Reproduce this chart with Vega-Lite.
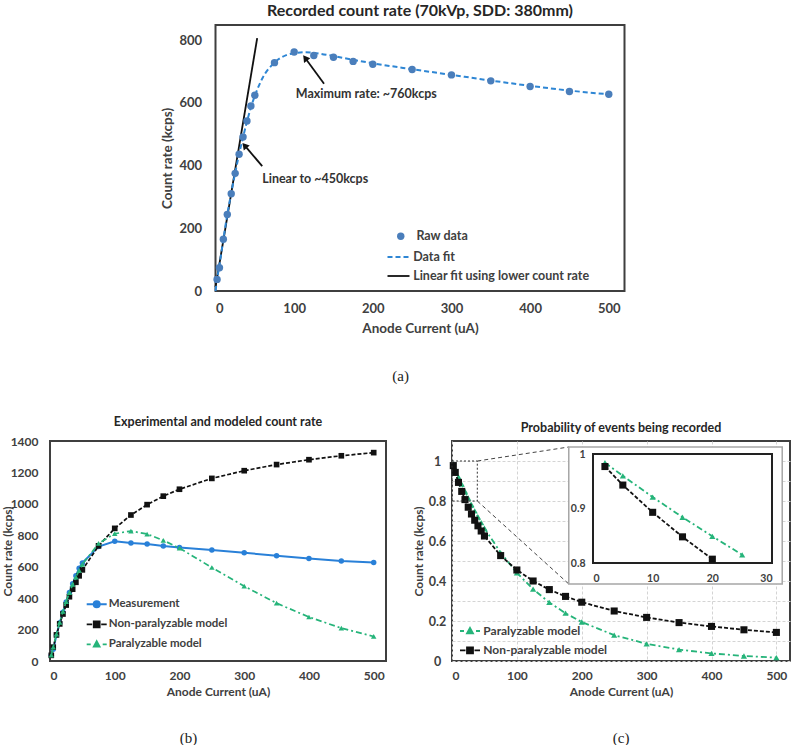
{
"$schema": "https://vega.github.io/schema/vega-lite/v6.json",
"background": "white",
"padding": {"left": 0, "top": 2, "right": 4, "bottom": 0},
"config": {
 "font": "Lato",
 "view": {"stroke": "#3f3f3f", "strokeWidth": 2},
 "axis": {"grid": false, "domain": false, "ticks": false, "tickSize": 0, "labelFont": "Lato", "titleFont": "Lato", "labelFontWeight": "bold", "titleFontWeight": "bold", "labelColor": "#404040", "titleColor": "#404040"},
 "legend": {"padding": 0, "labelFont": "Lato", "labelFontWeight": "bold", "labelColor": "#404040", "labelLimit": 400},
 "title": {"font": "Lato", "fontWeight": "bold", "color": "#262626"}
},
"datasets": {
 "a_raw": [{"x":2,"y":37},{"x":5,"y":74},{"x":10,"y":165},{"x":15,"y":244},{"x":20,"y":310},{"x":25,"y":375},{"x":30,"y":436},{"x":35,"y":491},{"x":40,"y":542},{"x":45,"y":590},{"x":50,"y":624},{"x":75,"y":728},{"x":100,"y":762},{"x":125,"y":751},{"x":150,"y":745},{"x":175,"y":732},{"x":200,"y":723},{"x":250,"y":706},{"x":300,"y":689},{"x":350,"y":670},{"x":400,"y":652},{"x":450,"y":636},{"x":500,"y":627}],
 "a_fit": [{"x":0,"y":0},{"x":2,"y":38},{"x":5,"y":82},{"x":10,"y":165},{"x":15,"y":244},{"x":20,"y":312},{"x":25,"y":376},{"x":30,"y":436},{"x":35,"y":490},{"x":40,"y":540},{"x":45,"y":585},{"x":50,"y":622},{"x":60,"y":680},{"x":75,"y":728},{"x":90,"y":752},{"x":100,"y":758},{"x":115,"y":761},{"x":125,"y":759},{"x":150,"y":749},{"x":175,"y":737},{"x":200,"y":726},{"x":250,"y":707},{"x":300,"y":689},{"x":350,"y":671},{"x":400,"y":654},{"x":450,"y":639},{"x":500,"y":627}],
 "a_lin": [{"x":0,"y":12},{"x":53,"y":806}],
 "a_notes": [{"label":"Maximum rate: ~760kcps","tx":102,"ty":629,"x":138,"y":661,"hx":114,"hy":743},{"label":"Linear to ~450kcps","tx":59.4,"ty":358,"x":59.4,"y":398,"hx":37,"hy":464}],
 "b": [
  {"s":"Measurement","x":2,"y":37},{"s":"Measurement","x":5,"y":74},{"s":"Measurement","x":10,"y":165},{"s":"Measurement","x":15,"y":244},{"s":"Measurement","x":20,"y":310},{"s":"Measurement","x":25,"y":375},{"s":"Measurement","x":30,"y":436},{"s":"Measurement","x":35,"y":491},{"s":"Measurement","x":40,"y":542},{"s":"Measurement","x":45,"y":590},{"s":"Measurement","x":50,"y":624},{"s":"Measurement","x":75,"y":728},{"s":"Measurement","x":100,"y":762},{"s":"Measurement","x":125,"y":751},{"s":"Measurement","x":150,"y":745},{"s":"Measurement","x":175,"y":732},{"s":"Measurement","x":200,"y":723},{"s":"Measurement","x":250,"y":706},{"s":"Measurement","x":300,"y":689},{"s":"Measurement","x":350,"y":670},{"s":"Measurement","x":400,"y":652},{"s":"Measurement","x":450,"y":636},{"s":"Measurement","x":500,"y":627},
  {"s":"Non-paralyzable model","x":2,"y":36},{"s":"Non-paralyzable model","x":5,"y":88},{"s":"Non-paralyzable model","x":10,"y":166},{"s":"Non-paralyzable model","x":15,"y":236},{"s":"Non-paralyzable model","x":20,"y":299},{"s":"Non-paralyzable model","x":25,"y":356},{"s":"Non-paralyzable model","x":30,"y":409},{"s":"Non-paralyzable model","x":35,"y":457},{"s":"Non-paralyzable model","x":40,"y":501},{"s":"Non-paralyzable model","x":45,"y":542},{"s":"Non-paralyzable model","x":50,"y":580},{"s":"Non-paralyzable model","x":75,"y":733},{"s":"Non-paralyzable model","x":100,"y":844},{"s":"Non-paralyzable model","x":125,"y":929},{"s":"Non-paralyzable model","x":150,"y":995},{"s":"Non-paralyzable model","x":175,"y":1049},{"s":"Non-paralyzable model","x":200,"y":1093},{"s":"Non-paralyzable model","x":250,"y":1162},{"s":"Non-paralyzable model","x":300,"y":1211},{"s":"Non-paralyzable model","x":350,"y":1250},{"s":"Non-paralyzable model","x":400,"y":1281},{"s":"Non-paralyzable model","x":450,"y":1306},{"s":"Non-paralyzable model","x":500,"y":1326},
  {"s":"Paralyzable model","x":2,"y":37},{"s":"Paralyzable model","x":5,"y":89},{"s":"Paralyzable model","x":10,"y":171},{"s":"Paralyzable model","x":15,"y":246},{"s":"Paralyzable model","x":20,"y":315},{"s":"Paralyzable model","x":25,"y":378},{"s":"Paralyzable model","x":30,"y":435},{"s":"Paralyzable model","x":35,"y":487},{"s":"Paralyzable model","x":40,"y":534},{"s":"Paralyzable model","x":45,"y":577},{"s":"Paralyzable model","x":50,"y":615},{"s":"Paralyzable model","x":75,"y":748},{"s":"Paralyzable model","x":100,"y":810},{"s":"Paralyzable model","x":125,"y":827},{"s":"Paralyzable model","x":150,"y":808},{"s":"Paralyzable model","x":175,"y":768},{"s":"Paralyzable model","x":200,"y":718},{"s":"Paralyzable model","x":250,"y":595},{"s":"Paralyzable model","x":300,"y":476},{"s":"Paralyzable model","x":350,"y":368},{"s":"Paralyzable model","x":400,"y":280},{"s":"Paralyzable model","x":450,"y":209},{"s":"Paralyzable model","x":500,"y":156}
 ],
 "c": [
  {"s":"Non-paralyzable model","x":2,"p":0.977},{"s":"Non-paralyzable model","x":5,"p":0.943},{"s":"Non-paralyzable model","x":10,"p":0.893},{"s":"Non-paralyzable model","x":15,"p":0.848},{"s":"Non-paralyzable model","x":20,"p":0.807},{"s":"Non-paralyzable model","x":25,"p":0.769},{"s":"Non-paralyzable model","x":30,"p":0.735},{"s":"Non-paralyzable model","x":35,"p":0.704},{"s":"Non-paralyzable model","x":40,"p":0.676},{"s":"Non-paralyzable model","x":45,"p":0.65},{"s":"Non-paralyzable model","x":50,"p":0.625},{"s":"Non-paralyzable model","x":75,"p":0.527},{"s":"Non-paralyzable model","x":100,"p":0.455},{"s":"Non-paralyzable model","x":125,"p":0.4},{"s":"Non-paralyzable model","x":150,"p":0.357},{"s":"Non-paralyzable model","x":175,"p":0.323},{"s":"Non-paralyzable model","x":200,"p":0.294},{"s":"Non-paralyzable model","x":250,"p":0.25},{"s":"Non-paralyzable model","x":300,"p":0.218},{"s":"Non-paralyzable model","x":350,"p":0.192},{"s":"Non-paralyzable model","x":400,"p":0.173},{"s":"Non-paralyzable model","x":450,"p":0.156},{"s":"Non-paralyzable model","x":500,"p":0.143},
  {"s":"Paralyzable model","x":2,"p":0.984},{"s":"Paralyzable model","x":5,"p":0.96},{"s":"Paralyzable model","x":10,"p":0.921},{"s":"Paralyzable model","x":15,"p":0.884},{"s":"Paralyzable model","x":20,"p":0.849},{"s":"Paralyzable model","x":25,"p":0.815},{"s":"Paralyzable model","x":30,"p":0.782},{"s":"Paralyzable model","x":35,"p":0.751},{"s":"Paralyzable model","x":40,"p":0.721},{"s":"Paralyzable model","x":45,"p":0.692},{"s":"Paralyzable model","x":50,"p":0.664},{"s":"Paralyzable model","x":75,"p":0.541},{"s":"Paralyzable model","x":100,"p":0.441},{"s":"Paralyzable model","x":125,"p":0.359},{"s":"Paralyzable model","x":150,"p":0.293},{"s":"Paralyzable model","x":175,"p":0.239},{"s":"Paralyzable model","x":200,"p":0.195},{"s":"Paralyzable model","x":250,"p":0.129},{"s":"Paralyzable model","x":300,"p":0.086},{"s":"Paralyzable model","x":350,"p":0.057},{"s":"Paralyzable model","x":400,"p":0.038},{"s":"Paralyzable model","x":450,"p":0.025},{"s":"Paralyzable model","x":500,"p":0.017}
 ],
 "c_zoom": [{"x":0,"x2":39,"p":0.8,"p2":1.0}],
 "c_links": [{"x":39,"p":1.0,"x2":180,"p2":1.07},{"x":39,"p":0.8,"x2":180,"p2":0.385}],
 "c_box": [{"x":180,"x2":509,"p":0.385,"p2":1.07}],
 "c_iframe": [{"x":0,"x2":30,"p":0.8,"p2":1.0}]
},
"vconcat": [
 {
  "title": {"text": "(a)", "orient": "bottom", "anchor": "middle", "font": "Liberation Serif", "fontWeight": "normal", "fontSize": 15, "color": "#222222", "offset": 33, "dx": 8},
  "vconcat": [
   {
    "width": 409, "height": 266,
    "title": {"text": "Recorded count rate (70kVp, SDD: 380mm)", "fontSize": 16, "frame": "group", "offset": 6},
    "resolve": {"scale": {"color": "independent"}},
    "encoding": {
     "x": {"field": "x", "type": "quantitative", "title": "Anode Current (uA)", "scale": {"domain": [0, 520], "nice": false}, "axis": {"values": [0,100,200,300,400,500], "labelFontSize": 13, "labelPadding": 11, "titleFontSize": 13.5, "titlePadding": 6}},
     "y": {"field": "y", "type": "quantitative", "title": "Count rate (kcps)", "scale": {"domain": [0, 848], "nice": false}, "axis": {"values": [0,200,400,600,800], "labelFontSize": 13, "labelPadding": 14, "titleFontSize": 13.5, "titlePadding": 4}}
    },
    "layer": [
     {"data": {"name": "a_lin"}, "mark": {"type": "line", "strokeWidth": 1.8},
      "encoding": {"color": {"datum": "Linear fit using lower count rate", "scale": {"range": ["#111111"]}, "legend": {"orient": "none", "legendX": 171, "legendY": 239, "title": null, "symbolType": "stroke", "symbolSize": 484, "symbolStrokeWidth": 1.8, "labelFontSize": 12.5, "labelOffset": 2.7}}}},
     {"data": {"name": "a_fit"}, "mark": {"type": "line", "strokeWidth": 2, "strokeDash": [5, 3], "interpolate": "monotone"},
      "encoding": {"color": {"datum": "Data fit", "scale": {"range": ["#2e86d4"]}, "legend": {"orient": "none", "legendX": 171, "legendY": 220, "title": null, "symbolType": "stroke", "symbolSize": 484, "symbolStrokeWidth": 2, "symbolDash": [5, 3], "labelFontSize": 12.5, "labelOffset": 2.7}}}},
     {"data": {"name": "a_raw"}, "mark": {"type": "point", "filled": true, "size": 55, "opacity": 1},
      "encoding": {"color": {"datum": "Raw data", "scale": {"range": ["#4a7ebb"]}, "legend": {"orient": "none", "legendX": 179, "legendY": 205, "title": null, "symbolType": "circle", "symbolSize": 55, "labelFontSize": 12.5, "labelOffset": 9.4}}}},
     {"data": {"name": "a_notes"}, "mark": {"type": "rule", "color": "#111111", "strokeWidth": 1.8},
      "encoding": {"x2": {"field": "hx"}, "y2": {"field": "hy"}}},
     {"data": {"name": "a_notes"}, "transform": [{"filter": "datum.label === 'Maximum rate: ~760kcps'"}], "mark": {"type": "point", "shape": "triangle-up", "filled": true, "size": 60, "opacity": 1, "color": "#111111", "angle": 323},
      "encoding": {"x": {"field": "hx", "type": "quantitative", "title": "Anode Current (uA)"}, "y": {"field": "hy", "type": "quantitative", "title": "Count rate (kcps)"}}},
     {"data": {"name": "a_notes"}, "transform": [{"filter": "datum.label === 'Linear to ~450kcps'"}], "mark": {"type": "point", "shape": "triangle-up", "filled": true, "size": 60, "opacity": 1, "color": "#111111", "angle": 320},
      "encoding": {"x": {"field": "hx", "type": "quantitative", "title": "Anode Current (uA)"}, "y": {"field": "hy", "type": "quantitative", "title": "Count rate (kcps)"}}},
     {"data": {"name": "a_notes"}, "mark": {"type": "text", "align": "left", "baseline": "middle", "fontWeight": "bold", "fontSize": 12.5, "color": "#333333"},
      "encoding": {"x": {"field": "tx", "type": "quantitative", "title": "Anode Current (uA)"}, "y": {"field": "ty", "type": "quantitative", "title": "Count rate (kcps)"}, "text": {"field": "label"}}}
    ]
   }
  ]
 },
 {
  "hconcat": [
   {
    "title": {"text": "(b)", "orient": "bottom", "anchor": "middle", "font": "Liberation Serif", "fontWeight": "normal", "fontSize": 15, "color": "#222222", "offset": 33, "dx": -5},
    "vconcat": [
     {
      "width": 336, "height": 220,
      "title": {"text": "Experimental and modeled count rate", "fontSize": 12.5, "frame": "group", "offset": 7},
      "data": {"name": "b"},
      "resolve": {"scale": {"color": "independent"}},
      "encoding": {
       "x": {"field": "x", "type": "quantitative", "title": "Anode Current (uA)", "scale": {"domain": [0, 519], "nice": false}, "axis": {"values": [0,100,200,300,400,500], "labelFontSize": 12, "labelPadding": 9, "titleFontSize": 12, "titlePadding": 5}},
       "y": {"field": "y", "type": "quantitative", "title": "Count rate (kcps)", "scale": {"domain": [0, 1400], "nice": false}, "axis": {"values": [0,200,400,600,800,1000,1200,1400], "format": "d", "labelFontSize": 12, "labelPadding": 12, "titleFontSize": 12, "titlePadding": -4}}
      },
      "layer": [
       {"transform": [{"filter": "datum.s === 'Measurement'"}], "mark": {"type": "line", "color": "#2980d8", "strokeWidth": 2}},
       {"transform": [{"filter": "datum.s === 'Measurement'"}], "mark": {"type": "point", "shape": "circle", "filled": true, "size": 30, "opacity": 1},
        "encoding": {"color": {"datum": "Measurement", "scale": {"range": ["#2980d8"]}, "legend": {"orient": "none", "legendX": 35.7, "legendY": 152.3, "title": null, "symbolType": "M-1,0H1M0.3,0A0.3,0.3,0,1,1,-0.3,0A0.3,0.3,0,1,1,0.3,0Z", "symbolSize": 400, "symbolStrokeColor": "#2980d8", "symbolStrokeWidth": 2, "labelFontSize": 11.5, "labelOffset": 1}}}},
       {"transform": [{"filter": "datum.s === 'Non-paralyzable model'"}], "mark": {"type": "line", "color": "#111111", "strokeWidth": 1.7, "strokeDash": [4, 2]}},
       {"transform": [{"filter": "datum.s === 'Non-paralyzable model'"}], "mark": {"type": "point", "shape": "square", "filled": true, "size": 32, "opacity": 1},
        "encoding": {"color": {"datum": "Non-paralyzable model", "scale": {"range": ["#111111"]}, "legend": {"orient": "none", "legendX": 35.7, "legendY": 172.3, "title": null, "symbolType": "M-1,0H-0.45M0.45,0H1M-0.3,-0.3H0.3V0.3H-0.3Z", "symbolSize": 400, "symbolStrokeColor": "#111111", "symbolStrokeWidth": 1.7, "labelFontSize": 11.5, "labelOffset": 1}}}},
       {"transform": [{"filter": "datum.s === 'Paralyzable model'"}], "mark": {"type": "line", "color": "#26b47a", "strokeWidth": 1.7, "strokeDash": [6, 3, 2, 3]}},
       {"transform": [{"filter": "datum.s === 'Paralyzable model'"}], "mark": {"type": "point", "shape": "triangle-up", "filled": true, "size": 30, "opacity": 1},
        "encoding": {"color": {"datum": "Paralyzable model", "scale": {"range": ["#26b47a"]}, "legend": {"orient": "none", "legendX": 35.7, "legendY": 192.3, "title": null, "symbolType": "M-1,0H-0.6M0.6,0H1M0,-0.32L0.3,0.24L-0.3,0.24Z", "symbolSize": 400, "symbolStrokeColor": "#26b47a", "symbolStrokeWidth": 1.7, "labelFontSize": 11.5, "labelOffset": 1}}}}
      ]
     }
    ]
   },
   {
    "title": {"text": "(c)", "orient": "bottom", "anchor": "middle", "font": "Liberation Serif", "fontWeight": "normal", "fontSize": 15, "color": "#222222", "offset": 33, "dx": 20},
    "vconcat": [
     {
      "width": 338, "height": 220,
      "title": {"text": "Probability of events being recorded", "fontSize": 12.5, "frame": "group", "offset": 7},
      "resolve": {"scale": {"x": "independent", "y": "independent", "color": "independent"}, "axis": {"x": "independent", "y": "independent"}},
      "layer": [
       {
        "data": {"name": "c"},
        "resolve": {"scale": {"color": "independent"}},
        "encoding": {
         "x": {"field": "x", "type": "quantitative", "title": "Anode Current (uA)", "scale": {"domain": [0, 521], "nice": false}, "axis": {"values": [0,100,200,300,400,500], "grid": true, "gridColor": "#d4d4d4", "gridDash": [3, 2], "labelFontSize": 12, "labelPadding": 9, "titleFontSize": 12, "titlePadding": 5}},
         "y": {"field": "p", "type": "quantitative", "title": "Count rate (kcps)", "scale": {"domain": [0, 1.1], "nice": false}, "axis": {"values": [0,0.1,0.2,0.3,0.4,0.5,0.6,0.7,0.8,0.9,1], "format": "~g", "labelExpr": "indexof(['0','0.2','0.4','0.6','0.8','1'], datum.label) >= 0 ? datum.label : ''", "grid": true, "gridColor": "#d4d4d4", "gridDash": [3, 2], "labelAlign": "center", "labelFontSize": 12.5, "labelPadding": 15, "titleFontSize": 12, "titlePadding": 3}}
        },
        "layer": [
         {"transform": [{"filter": "datum.s === 'Paralyzable model'"}], "mark": {"type": "line", "color": "#26b47a", "strokeWidth": 1.8, "strokeDash": [6, 3, 2, 3]}},
         {"transform": [{"filter": "datum.s === 'Paralyzable model'"}], "mark": {"type": "point", "shape": "triangle-up", "filled": true, "size": 38, "opacity": 1},
          "encoding": {"color": {"datum": "Paralyzable model", "scale": {"range": ["#26b47a"]}, "legend": {"orient": "none", "legendX": 7, "legendY": 179, "title": null, "symbolType": "M-1,0H-0.6M0.6,0H1M0,-0.32L0.3,0.24L-0.3,0.24Z", "symbolSize": 400, "symbolStrokeColor": "#26b47a", "symbolStrokeWidth": 1.8, "labelFontSize": 12, "labelOffset": 2.3}}}},
         {"transform": [{"filter": "datum.s === 'Non-paralyzable model'"}], "mark": {"type": "line", "color": "#111111", "strokeWidth": 1.8, "strokeDash": [4, 2]}},
         {"transform": [{"filter": "datum.s === 'Non-paralyzable model'"}], "mark": {"type": "point", "shape": "square", "filled": true, "size": 50, "opacity": 1},
          "encoding": {"color": {"datum": "Non-paralyzable model", "scale": {"range": ["#111111"]}, "legend": {"orient": "none", "legendX": 7, "legendY": 198.3, "title": null, "symbolType": "M-1,0H-0.45M0.45,0H1M-0.3,-0.3H0.3V0.3H-0.3Z", "symbolSize": 400, "symbolStrokeColor": "#111111", "symbolStrokeWidth": 1.8, "labelFontSize": 12, "labelOffset": 2.3}}}},
         {"data": {"name": "c_zoom"}, "mark": {"type": "rect", "filled": false, "stroke": "#333333", "strokeWidth": 1, "strokeDash": [2, 2]},
          "encoding": {"x2": {"field": "x2"}, "y2": {"field": "p2"}}},
         {"data": {"name": "c_links"}, "mark": {"type": "rule", "color": "#444444", "strokeWidth": 1, "strokeDash": [4, 3]},
          "encoding": {"x2": {"field": "x2"}, "y2": {"field": "p2"}}},
         {"data": {"name": "c_box"}, "mark": {"type": "rect", "fill": "white", "stroke": "#a6a6a6", "strokeWidth": 1.5},
          "encoding": {"x2": {"field": "x2"}, "y2": {"field": "p2"}}}
        ]
       },
       {
        "data": {"name": "c"},
        "resolve": {"scale": {"color": "independent"}},
        "encoding": {
         "x": {"field": "x", "type": "quantitative", "title": null, "scale": {"domain": [0, 30], "range": [141, 320], "nice": false}, "axis": {"orient": "bottom", "offset": -98, "values": [0, 10, 20, 30], "grid": false, "labelFontSize": 10.5, "labelPadding": 10, "zindex": 1}},
         "y": {"field": "p", "type": "quantitative", "title": null, "scale": {"domain": [0.8, 1], "range": [122, 13], "nice": false, "zero": false}, "axis": {"orient": "left", "offset": -141, "values": [0.8, 0.9, 1], "format": "~g", "grid": false, "labelFontSize": 10.5, "labelPadding": 8, "zindex": 1}}
        },
        "layer": [
         {"data": {"name": "c_iframe"}, "mark": {"type": "rect", "filled": false, "stroke": "#222222", "strokeWidth": 2},
          "encoding": {"x2": {"field": "x2"}, "y2": {"field": "p2"}}},
         {"transform": [{"filter": "datum.s === 'Paralyzable model' && datum.x <= 25"}], "mark": {"type": "line", "color": "#26b47a", "strokeWidth": 1.8, "strokeDash": [6, 3, 2, 3]}},
         {"transform": [{"filter": "datum.s === 'Paralyzable model' && datum.x <= 25"}], "mark": {"type": "point", "shape": "triangle-up", "filled": true, "size": 38, "opacity": 1, "color": "#26b47a"}},
         {"transform": [{"filter": "datum.s === 'Non-paralyzable model' && datum.x <= 20"}], "mark": {"type": "line", "color": "#111111", "strokeWidth": 1.8, "strokeDash": [4, 2]}},
         {"transform": [{"filter": "datum.s === 'Non-paralyzable model' && datum.x <= 20"}], "mark": {"type": "point", "shape": "square", "filled": true, "size": 50, "opacity": 1, "color": "#111111"}}
        ]
       }
      ]
     }
    ]
   }
  ],
  "spacing": 24
 }
],
"center": true,
"spacing": 30
}
